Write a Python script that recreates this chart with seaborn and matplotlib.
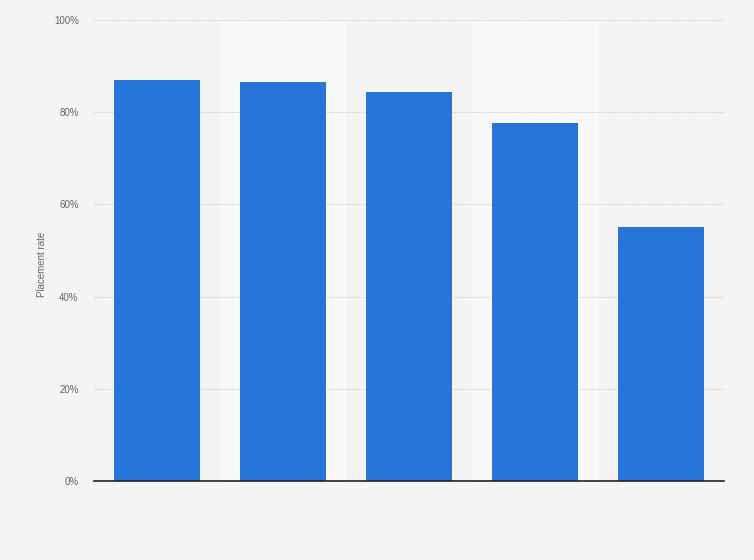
import matplotlib
matplotlib.use("Agg")
import matplotlib.pyplot as plt
import pandas as pd
import seaborn as sns
from matplotlib.ticker import FuncFormatter

# Data (no category labels are shown there)
categories = ["A", "B", "C", "D", "E"]
placement_rate = [87.0, 86.6, 84.4, 77.7, 55.1]

df = pd.DataFrame({"category": categories, "rate": placement_rate})

sns.set_style("white")
plt.rcParams["font.family"] = ["Liberation Sans", "DejaVu Sans"]

fig = plt.figure(figsize=(7.54, 5.6), dpi=100)
fig.patch.set_facecolor("#f4f4f4")
ax = fig.add_axes([94 / 754, 1 - 481 / 560, 630 / 754, 461 / 560])
ax.set_facecolor("#f4f4f4")

# alternating light column bands
for i in range(len(categories)):
    if i % 2 == 1:
        ax.axvspan(i - 0.5, i + 0.5, color="#f9f9f9", zorder=0)

sns.barplot(data=df, x="category", y="rate", color="#2775d9", width=0.69,
            saturation=1, ax=ax, zorder=3, edgecolor="none")

ax.set_xlim(-0.5, len(categories) - 0.5)
ax.set_ylim(0, 100)
ax.set_yticks([0, 20, 40, 60, 80, 100])
ax.yaxis.set_major_formatter(FuncFormatter(lambda v, _: f"{v:.0f}%"))
ax.grid(axis="y", color="#cfcfcf", linestyle=(0, (1, 1)), linewidth=0.8, zorder=1)
ax.set_axisbelow(True)

ax.set_xticklabels([])
ax.tick_params(axis="x", length=0)
ax.tick_params(axis="y", length=0, labelsize=7, labelcolor="#666666", pad=11)
ax.set_xlabel("")
ax.set_ylabel("Placement rate", fontsize=7, color="#666666")
ax.yaxis.set_label_coords(-0.075, 0.47)

for side in ["top", "right", "left"]:
    ax.spines[side].set_visible(False)
ax.spines["bottom"].set_color("#222222")
ax.spines["bottom"].set_linewidth(1.2)
ax.spines["bottom"].set_zorder(4)

fig.savefig("out.png", dpi=100, facecolor=fig.get_facecolor())
